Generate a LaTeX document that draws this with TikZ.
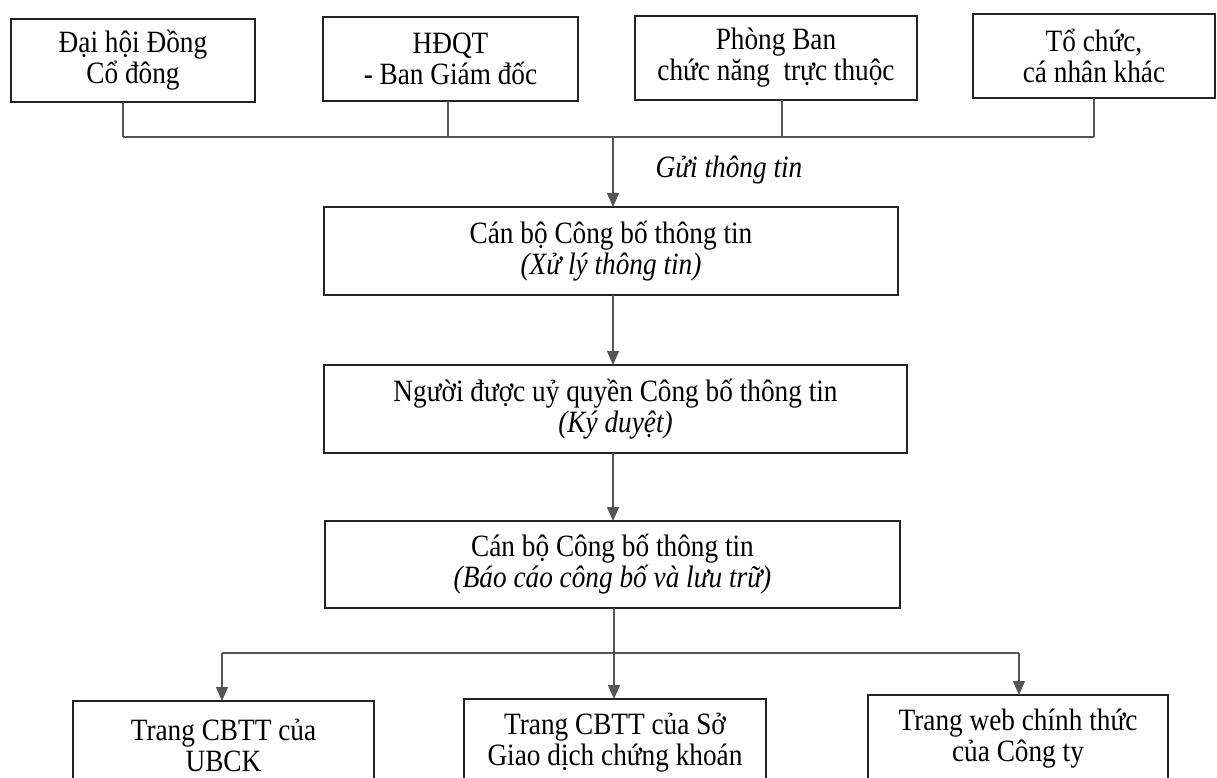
\documentclass[tikz,border=0pt]{standalone}
\usepackage{fontspec}
\setmainfont{Liberation Serif}[FakeStretch=0.88]
\usetikzlibrary{arrows.meta}
\definecolor{conncol}{HTML}{555555}
\definecolor{boxcol}{HTML}{222222}
\tikzset{
  box/.style={draw=boxcol, line width=1.8pt, rectangle, align=center, inner sep=0pt, outer sep=0pt,
    font=\fontsize{31}{31}\selectfont, text=black},
  conn/.style={draw=conncol, line width=1.3pt},
  arr/.style={conn, -{Triangle[width=12pt,length=14pt]}, conncol}
}
\begin{document}
\begin{tikzpicture}[x=1pt,y=-1pt]
\useasboundingbox (0,0) rectangle (1217,778);
\clip (0,0) rectangle (1217,778);
\fill[white] (0,0) rectangle (1217,778);
% top boxes
\node[box, minimum width=244pt, minimum height=83pt] (b1) at (133,60.5) {Đại hội Đồng\\Cổ đông};
\node[box, minimum width=255pt, minimum height=84pt] (b2) at (450.5,59) {HĐQT\\- Ban Giám đốc};
\node[box, minimum width=282pt, minimum height=84pt] (b3) at (776,58) {Phòng Ban\\chức năng\ \ trực thuộc};
\node[box, minimum width=242pt, minimum height=84pt] (b4) at (1094,56) {Tổ chức,\\cá nhân khác};
% junctions
\coordinate (j1) at (123,137);
\coordinate (j2) at (448,137);
\coordinate (j3) at (782,137);
\coordinate (j4) at (1094,137);
\coordinate (jm) at (613,137);
\draw[conn] (b1.south -| j1) -- (j1);
\draw[conn] (b2.south -| j2) -- (j2);
\draw[conn] (b3.south -| j3) -- (j3);
\draw[conn] (b4.south -| j4) -- (j4);
\draw[conn] (j1) -- (j4);
\node[font=\fontsize{31}{31}\selectfont\itshape] (gui) at (729,170) {Gửi thông tin};
% middle boxes
\node[box, minimum width=574pt, minimum height=88pt] (a) at (611,251) {Cán bộ Công bố thông tin\\\textit{(Xử lý thông tin)}};
\node[box, minimum width=583pt, minimum height=88pt] (b) at (615.5,409) {Người được uỷ quyền Công bố thông tin\\\textit{(Ký duyệt)}};
\node[box, minimum width=575pt, minimum height=87pt] (c) at (612.5,564.5) {Cán bộ Công bố thông tin\\\textit{(Báo cáo công bố và lưu trữ)}};
\draw[arr] (jm) -- (a.north -| jm);
\draw[arr] (a.south -| jm) -- (b.north -| jm);
\draw[arr] (b.south -| jm) -- (c.north -| jm);
% bottom boxes
\node[box, minimum width=301pt, minimum height=88pt] (o1) at (223.5,745) {Trang CBTT của\\UBCK};
\node[box, minimum width=302pt, minimum height=88pt] (o2) at (615,743) {Trang CBTT của Sở\\Giao dịch chứng khoán};
\node[box, minimum width=300pt, minimum height=88pt] (o3) at (1018,739) {Trang web chính thức\\của Công ty};
\coordinate (k) at (614,653);
\coordinate (kl) at (222,653);
\coordinate (kr) at (1019,653);
\draw[conn] (kl) -- (kr);
\draw[arr] (c.south -| k) -- (o2.north -| k);
\draw[arr] (kl) -- (o1.north -| kl);
\draw[arr] (kr) -- (o3.north -| kr);
\end{tikzpicture}
\end{document}
